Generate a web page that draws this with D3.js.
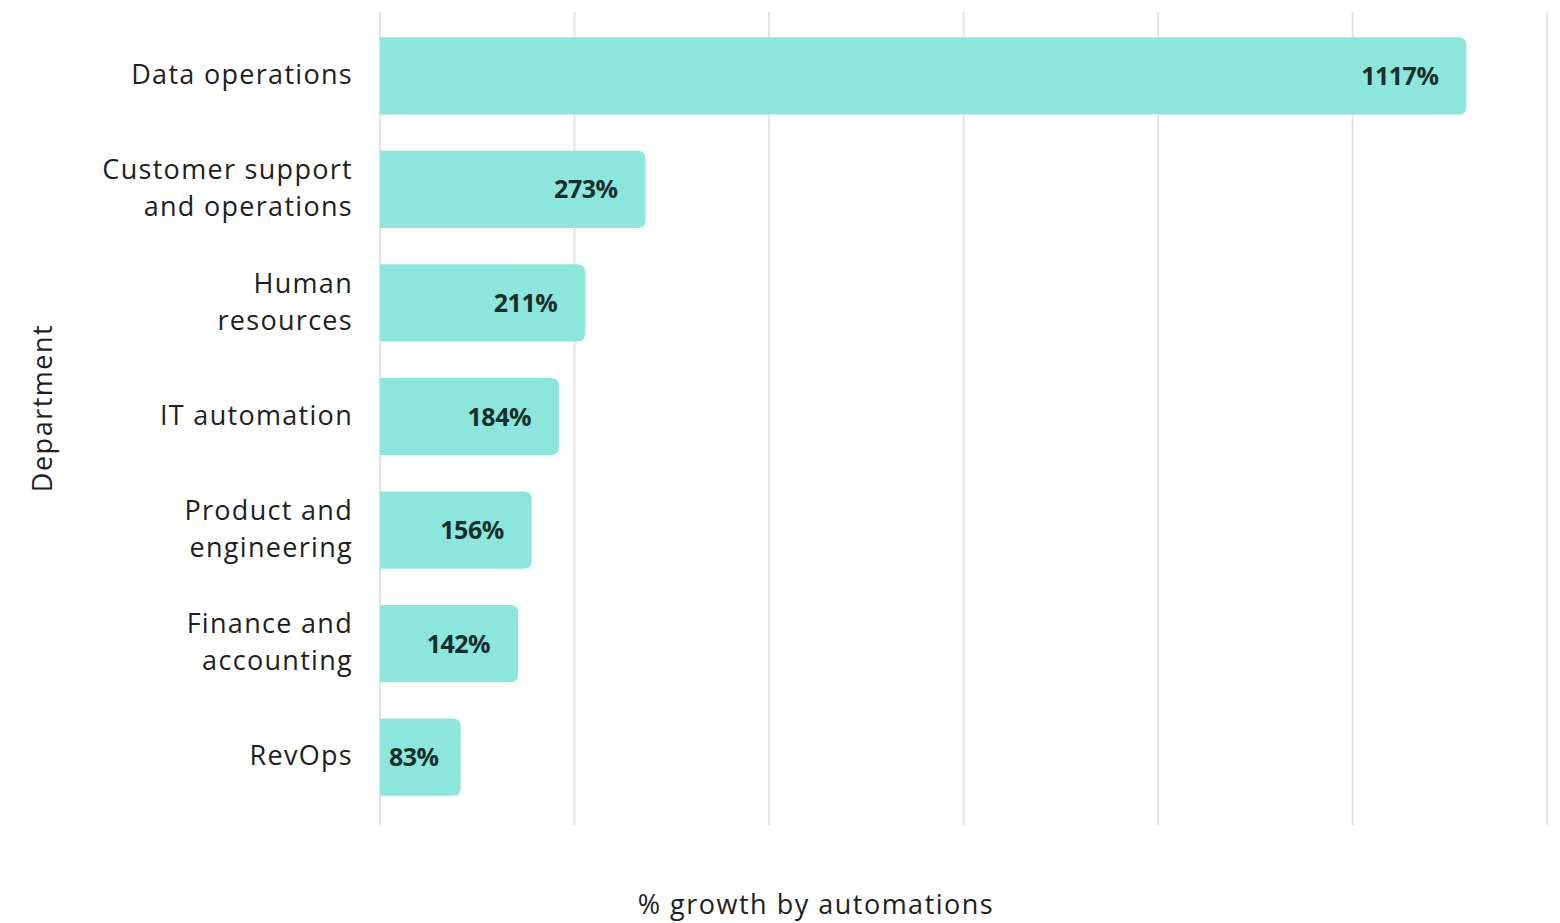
<!DOCTYPE html>
<html>
<head>
<meta charset="utf-8">
<script src="https://cdn.jsdelivr.net/npm/d3@7"></script>
<style>
	body { margin: 0; background: #fff; }
	svg text { font-family: "Open Sans", Lato, sans-serif; }
</style>
</head>
<body>
<div id="chart"></div>
<script>
const departments = [
	["Data operations"],
	["Customer support", "and operations"],
	["Human", "resources"],
	["IT automation"],
	["Product and", "engineering"],
	["Finance and", "accounting"],
	["RevOps"],
]
const growth = [1117, 273, 211, 184, 156, 142, 83]
const gridValues = [0, 200, 400, 600, 800, 1000, 1200]

const width = 1560
const height = 923

const svg = d3.select("#chart").append("svg").attr("width", width).attr("height", height)

const x = d3.scaleLinear().domain([0, 1205]).range([380, 1552])
const y = d3.scaleBand().domain(d3.range(growth.length)).range([19, 814]).paddingInner(0.32).paddingOuter(0.16)

// grid lines
svg
	.selectAll(".grid")
	.data(gridValues)
	.enter()
	.append("line")
	.attr("x1", d => x(d))
	.attr("x2", d => x(d))
	.attr("y1", 12)
	.attr("y2", 825)
	.attr("stroke", "#e3e3e3")
	.attr("stroke-width", 2)

// bars: square on the left, rounded on the right
const r = 8
svg
	.selectAll(".bar")
	.data(growth)
	.enter()
	.append("path")
	.attr("fill", "#8de6dc")
	.attr("d", (d, i) => {
		const x0 = x(0), x1 = x(d), y0 = y(i), h = y.bandwidth()
		return `M${x0},${y0}H${x1 - r}Q${x1},${y0} ${x1},${y0 + r}V${y0 + h - r}Q${x1},${y0 + h} ${x1 - r},${y0 + h}H${x0}Z`
	})

// value labels
svg
	.selectAll(".value")
	.data(growth)
	.enter()
	.append("text")
	.attr("y", (d, i) => y(i) + y.bandwidth() / 2)
	.attr("dy", "0.36em")
	.attr("font-size", 25)
	.attr("font-weight", "bold")
	.attr("letter-spacing", -0.5)
	.attr("fill", "#14302c")
	.text(d => d + "%")
	.each(function (d) {
		const w = this.getComputedTextLength()
		let end = x(d) - 28
		if (end - w < x(0) + 9) end = x(0) + 9 + w
		d3.select(this).attr("x", end).attr("text-anchor", "end")
	})

// category labels
const labels = svg
	.selectAll(".label")
	.data(departments)
	.enter()
	.append("text")
	.attr("text-anchor", "end")
	.attr("font-size", 27)
	.attr("letter-spacing", 1.3)
	.attr("fill", "#1e1e1e")
	.attr("transform", (d, i) => `translate(353, ${y(i) + y.bandwidth() / 2})`)

labels
	.selectAll("tspan")
	.data(d => d.map((t, j) => ({ t, j, n: d.length })))
	.enter()
	.append("tspan")
	.attr("x", 0)
	.attr("y", d => (d.j - (d.n - 1) / 2) * 37)
	.attr("dy", "0.3em")
	.text(d => d.t)

// axis titles
svg
	.append("text")
	.attr("transform", "translate(52, 408) rotate(-90)")
	.attr("text-anchor", "middle")
	.attr("font-size", 27)
	.attr("letter-spacing", 1.5)
	.attr("fill", "#1e1e1e")
	.text("Department")

svg
	.append("text")
	.attr("x", 816)
	.attr("y", 914)
	.attr("text-anchor", "middle")
	.attr("font-size", 27)
	.attr("letter-spacing", 1.5)
	.attr("fill", "#1e1e1e")
	.text("% growth by automations")
</script>
</body>
</html>
